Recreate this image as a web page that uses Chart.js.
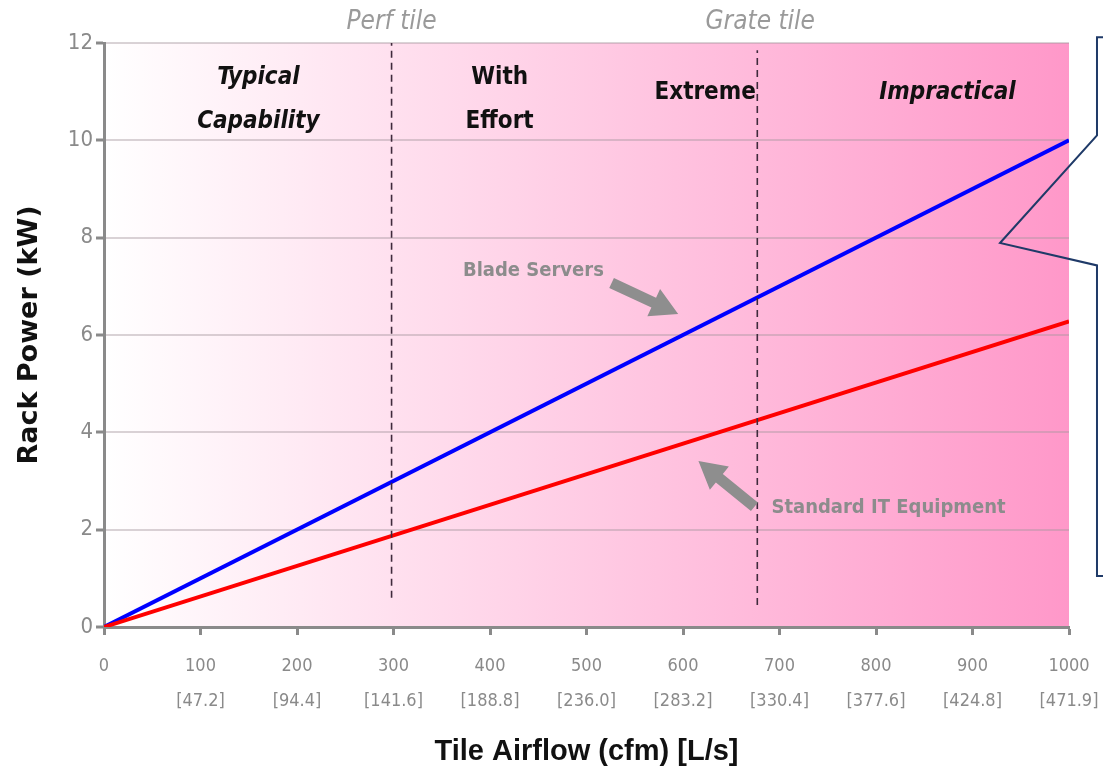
<!DOCTYPE html>
<html>
<head>
<meta charset="utf-8">
<script src="https://cdn.jsdelivr.net/npm/chart.js@4/dist/chart.umd.min.js"></script>
<style>
html,body{margin:0;padding:0;background:#fff;}
#wrap{width:1103px;height:779px;}
</style>
</head>
<body>
<div id="wrap"><canvas id="c" width="1103" height="779"></canvas></div>
<script>
// ---- data ----
const airflowCfm = [0, 1000];
const bladeServersKW = [0, 10];
const standardITKW = [0, 6.28];
const xTickCfm = [0, 100, 200, 300, 400, 500, 600, 700, 800, 900, 1000];
const xTickLps = ['', '[47.2]', '[94.4]', '[141.6]', '[188.8]', '[236.0]', '[283.2]', '[330.4]', '[377.6]', '[424.8]', '[471.9]'];
const yTicksKW = [0, 2, 4, 6, 8, 10, 12];
const perfTileCfm = 298;
const grateTileCfm = 677;
const perfTileSpanKW = [0.6, 12];
const grateTileSpanKW = [0.45, 11.85];

// ---- annotations (data units) ----
const NARROW = '"Liberation Sans Narrow", "Arial Narrow", "DejaVu Sans Condensed", "Liberation Sans", sans-serif';
const SANS = '"Liberation Sans", Arial, sans-serif';
const textNotes = [
  {text: 'Typical', x: 160, y: 11.28, font: 'italic bold 24px ' + NARROW, color: '#111'},
  {text: 'Capability', x: 160, y: 10.38, font: 'italic bold 24px ' + NARROW, color: '#111'},
  {text: 'With', x: 410, y: 11.28, font: 'bold 24px ' + NARROW, color: '#111'},
  {text: 'Effort', x: 410, y: 10.38, font: 'bold 24px ' + NARROW, color: '#111'},
  {text: 'Extreme', x: 623, y: 10.97, font: 'bold 24px ' + NARROW, color: '#111'},
  {text: 'Impractical', x: 874, y: 10.97, font: 'italic bold 24px ' + NARROW, color: '#111'},
  {text: 'Perf tile', x: 298, y: 12.43, font: 'italic 26px ' + NARROW, color: '#9a9a9a'},
  {text: 'Grate tile', x: 680, y: 12.43, font: 'italic 26px ' + NARROW, color: '#9a9a9a'},
  {text: 'Blade Servers', x: 445, y: 7.31, font: 'bold 20px ' + NARROW, color: '#8c8c8c'},
  {text: 'Standard IT Equipment', x: 813, y: 2.45, font: 'bold 20px ' + NARROW, color: '#8c8c8c'}
];
const arrows = [
  {from: [526, 7.07], to: [595, 6.43]},
  {from: [674, 2.47], to: [616, 3.41]}
];
const calloutPath = [[1045, 12.12], [1029, 12.12], [1029, 10.1], [928.5, 7.89], [1029, 7.43], [1029, 1.05], [1045, 1.05]];

const bgPlugin = {
  id: 'bg',
  beforeDraw(chart) {
    const {ctx, chartArea: a} = chart;
    const g = ctx.createLinearGradient(a.left, 0, a.right, 0);
    g.addColorStop(0, '#ffffff');
    g.addColorStop(1, '#ff98c9');
    ctx.save();
    ctx.fillStyle = g;
    ctx.fillRect(a.left, a.top, a.right - a.left, a.bottom - a.top);
    ctx.restore();
  }
};

const notesPlugin = {
  id: 'notes',
  afterDraw(chart) {
    const {ctx} = chart;
    const xs = chart.scales.x, ys = chart.scales.y;
    ctx.save();
    arrows.forEach(a => {
      const x1 = xs.getPixelForValue(a.from[0]), y1 = ys.getPixelForValue(a.from[1]);
      const x2 = xs.getPixelForValue(a.to[0]), y2 = ys.getPixelForValue(a.to[1]);
      const dx = x2 - x1, dy = y2 - y1, L = Math.hypot(dx, dy);
      const ux = dx / L, uy = dy / L, nx = -uy, ny = ux;
      const hl = 27, hw = 15, sw = 5.5;
      const bx = x2 - ux * hl, by = y2 - uy * hl;
      ctx.beginPath();
      ctx.moveTo(x1 + nx * sw, y1 + ny * sw);
      ctx.lineTo(bx + nx * sw, by + ny * sw);
      ctx.lineTo(bx + nx * hw, by + ny * hw);
      ctx.lineTo(x2, y2);
      ctx.lineTo(bx - nx * hw, by - ny * hw);
      ctx.lineTo(bx - nx * sw, by - ny * sw);
      ctx.lineTo(x1 - nx * sw, y1 - ny * sw);
      ctx.closePath();
      ctx.fillStyle = '#8e8e8e';
      ctx.fill();
    });
    ctx.textAlign = 'center';
    ctx.textBaseline = 'middle';
    textNotes.forEach(t => {
      ctx.font = t.font;
      ctx.fillStyle = t.color;
      ctx.fillText(t.text, xs.getPixelForValue(t.x), ys.getPixelForValue(t.y));
    });
    ctx.beginPath();
    calloutPath.forEach((p, i) => {
      const px = xs.getPixelForValue(p[0]), py = ys.getPixelForValue(p[1]);
      if (i === 0) ctx.moveTo(px, py); else ctx.lineTo(px, py);
    });
    ctx.strokeStyle = '#1f3a68';
    ctx.lineWidth = 2;
    ctx.stroke();
    ctx.restore();
  }
};

const toXY = (xs, ys) => xs.map((x, i) => ({x: x, y: ys[i]}));

new Chart(document.getElementById('c'), {
  type: 'line',
  data: {
    datasets: [
      {label: 'Perf tile', data: [{x: perfTileCfm, y: perfTileSpanKW[0]}, {x: perfTileCfm, y: perfTileSpanKW[1]}],
       borderColor: '#3f2a3c', borderWidth: 1.6, borderDash: [7, 5], pointRadius: 0, fill: false},
      {label: 'Grate tile', data: [{x: grateTileCfm, y: grateTileSpanKW[0]}, {x: grateTileCfm, y: grateTileSpanKW[1]}],
       borderColor: '#3f2a3c', borderWidth: 1.6, borderDash: [7, 5], pointRadius: 0, fill: false},
      {label: 'Standard IT Equipment', data: toXY(airflowCfm, standardITKW),
       borderColor: '#ff0000', borderWidth: 4, pointRadius: 0, fill: false, tension: 0},
      {label: 'Blade Servers', data: toXY(airflowCfm, bladeServersKW),
       borderColor: '#0000ff', borderWidth: 4, pointRadius: 0, fill: false, tension: 0}
    ]
  },
  options: {
    responsive: false,
    animation: false,
    devicePixelRatio: 1,
    layout: {padding: {left: 0, top: 43, right: 34, bottom: 0}},
    plugins: {legend: {display: false}, tooltip: {enabled: false}},
    scales: {
      x: {
        type: 'linear', min: 0, max: 1000,
        afterBuildTicks: s => { s.ticks = xTickCfm.map(v => ({value: v})); },
        afterFit: s => { s.height = 152; s.paddingLeft = 0; s.paddingRight = 0; },
        grid: {drawOnChartArea: false, drawTicks: true, tickLength: 8, tickColor: '#8a8a8a', tickWidth: 3},
        border: {color: '#8a8a8a', width: 3},
        ticks: {
          autoSkip: false, maxRotation: 0, color: '#8a8a8a', padding: 14,
          font: {family: NARROW, size: 18, lineHeight: 1.95},
          callback: (v) => { const i = xTickCfm.indexOf(v); return xTickLps[i] ? [String(v), xTickLps[i]] : String(v); }
        },
        title: {display: true, text: 'Tile Airflow (cfm) [L/s]', color: '#111',
          font: {family: SANS, size: 29, weight: 'bold'}, padding: {top: 0, bottom: 10}}
      },
      y: {
        type: 'linear', min: 0, max: 12,
        afterBuildTicks: s => { s.ticks = yTicksKW.map(v => ({value: v})); },
        afterFit: s => { s.width = 104; s.paddingTop = 0; s.paddingBottom = 0; },
        grid: {color: 'rgba(165,150,158,0.42)', lineWidth: 2, drawTicks: true, tickLength: 8, tickColor: '#8a8a8a', tickWidth: 3},
        border: {color: '#8a8a8a', width: 3},
        ticks: {color: '#8a8a8a', padding: 3, font: {family: NARROW, size: 22}},
        title: {display: true, text: 'Rack Power (kW)', color: '#111',
          font: {family: '"DejaVu Sans", sans-serif', size: 27, weight: 'bold'}, padding: {top: 14, bottom: 0}}
      }
    }
  },
  plugins: [bgPlugin, notesPlugin]
});
</script>
</body>
</html>
